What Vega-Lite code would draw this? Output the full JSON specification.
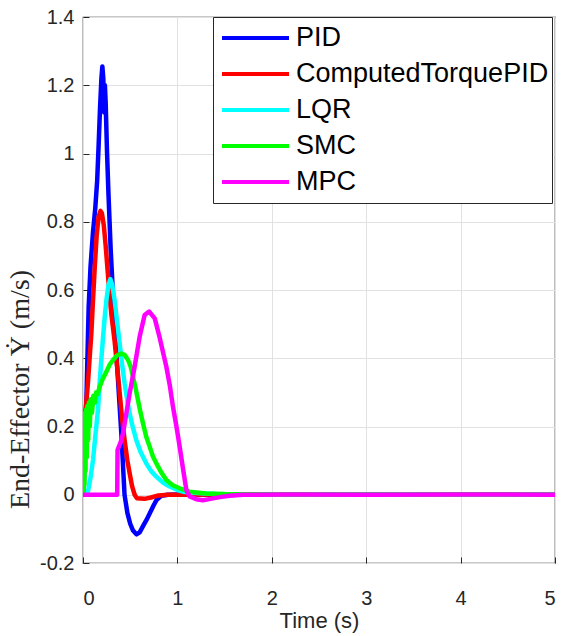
{
  "$schema": "https://vega.github.io/schema/vega-lite/v6.json",
  "width": 472,
  "height": 546,
  "autosize": {"type": "none"},
  "padding": {"left": 83, "top": 17, "right": 13, "bottom": 73},
  "background": "#ffffff",
  "config": {
    "view": {"stroke": "#262626", "strokeWidth": 1.2},
    "font": "Liberation Sans"
  },
  "data": {
    "values": [
      {"s": "PID", "t": 0, "v": 0},
      {"s": "PID", "t": 0.01, "v": 0.05},
      {"s": "PID", "t": 0.03, "v": 0.2},
      {"s": "PID", "t": 0.045, "v": 0.38},
      {"s": "PID", "t": 0.06, "v": 0.55},
      {"s": "PID", "t": 0.08, "v": 0.67},
      {"s": "PID", "t": 0.106, "v": 0.77},
      {"s": "PID", "t": 0.13, "v": 0.84},
      {"s": "PID", "t": 0.15, "v": 0.92},
      {"s": "PID", "t": 0.165, "v": 1.02},
      {"s": "PID", "t": 0.18, "v": 1.13},
      {"s": "PID", "t": 0.195, "v": 1.22},
      {"s": "PID", "t": 0.205, "v": 1.255},
      {"s": "PID", "t": 0.215, "v": 1.22},
      {"s": "PID", "t": 0.225, "v": 1.12},
      {"s": "PID", "t": 0.232, "v": 1.2},
      {"s": "PID", "t": 0.24, "v": 1.15},
      {"s": "PID", "t": 0.255, "v": 1.0},
      {"s": "PID", "t": 0.27, "v": 0.88},
      {"s": "PID", "t": 0.293, "v": 0.72},
      {"s": "PID", "t": 0.33, "v": 0.52},
      {"s": "PID", "t": 0.37, "v": 0.34},
      {"s": "PID", "t": 0.406, "v": 0.18},
      {"s": "PID", "t": 0.44, "v": 0.0},
      {"s": "PID", "t": 0.47, "v": -0.053},
      {"s": "PID", "t": 0.5, "v": -0.085},
      {"s": "PID", "t": 0.53, "v": -0.105},
      {"s": "PID", "t": 0.566, "v": -0.116},
      {"s": "PID", "t": 0.6, "v": -0.11},
      {"s": "PID", "t": 0.64, "v": -0.09},
      {"s": "PID", "t": 0.68, "v": -0.07},
      {"s": "PID", "t": 0.71, "v": -0.053},
      {"s": "PID", "t": 0.75, "v": -0.03},
      {"s": "PID", "t": 0.78, "v": -0.015},
      {"s": "PID", "t": 0.83, "v": -0.003},
      {"s": "PID", "t": 0.9, "v": 0},
      {"s": "PID", "t": 1.0, "v": 0.001},
      {"s": "PID", "t": 1.5, "v": 0},
      {"s": "PID", "t": 2, "v": 0.001},
      {"s": "PID", "t": 3, "v": 0},
      {"s": "PID", "t": 4, "v": 0.001},
      {"s": "PID", "t": 5, "v": 0},

      {"s": "ComputedTorquePID", "t": 0, "v": 0},
      {"s": "ComputedTorquePID", "t": 0.004, "v": 0.24},
      {"s": "ComputedTorquePID", "t": 0.02, "v": 0.235},
      {"s": "ComputedTorquePID", "t": 0.035, "v": 0.27},
      {"s": "ComputedTorquePID", "t": 0.053, "v": 0.33},
      {"s": "ComputedTorquePID", "t": 0.07, "v": 0.4},
      {"s": "ComputedTorquePID", "t": 0.088, "v": 0.47},
      {"s": "ComputedTorquePID", "t": 0.106, "v": 0.57},
      {"s": "ComputedTorquePID", "t": 0.125, "v": 0.67},
      {"s": "ComputedTorquePID", "t": 0.145, "v": 0.76},
      {"s": "ComputedTorquePID", "t": 0.165, "v": 0.815},
      {"s": "ComputedTorquePID", "t": 0.185, "v": 0.832},
      {"s": "ComputedTorquePID", "t": 0.2, "v": 0.825},
      {"s": "ComputedTorquePID", "t": 0.22, "v": 0.79},
      {"s": "ComputedTorquePID", "t": 0.24, "v": 0.73},
      {"s": "ComputedTorquePID", "t": 0.26, "v": 0.66},
      {"s": "ComputedTorquePID", "t": 0.283, "v": 0.58},
      {"s": "ComputedTorquePID", "t": 0.3, "v": 0.53},
      {"s": "ComputedTorquePID", "t": 0.335, "v": 0.45},
      {"s": "ComputedTorquePID", "t": 0.36, "v": 0.38},
      {"s": "ComputedTorquePID", "t": 0.388, "v": 0.3},
      {"s": "ComputedTorquePID", "t": 0.415, "v": 0.22},
      {"s": "ComputedTorquePID", "t": 0.441, "v": 0.16},
      {"s": "ComputedTorquePID", "t": 0.47, "v": 0.1},
      {"s": "ComputedTorquePID", "t": 0.494, "v": 0.063},
      {"s": "ComputedTorquePID", "t": 0.52, "v": 0.025},
      {"s": "ComputedTorquePID", "t": 0.547, "v": 0.0},
      {"s": "ComputedTorquePID", "t": 0.57, "v": -0.01},
      {"s": "ComputedTorquePID", "t": 0.65, "v": -0.012},
      {"s": "ComputedTorquePID", "t": 0.72, "v": -0.008},
      {"s": "ComputedTorquePID", "t": 0.8, "v": -0.002},
      {"s": "ComputedTorquePID", "t": 0.9, "v": 0},
      {"s": "ComputedTorquePID", "t": 1.5, "v": 0.001},
      {"s": "ComputedTorquePID", "t": 2.5, "v": 0},
      {"s": "ComputedTorquePID", "t": 3.5, "v": 0.001},
      {"s": "ComputedTorquePID", "t": 5, "v": 0},

      {"s": "LQR", "t": 0, "v": 0},
      {"s": "LQR", "t": 0.03, "v": 0.003},
      {"s": "LQR", "t": 0.053, "v": 0.01},
      {"s": "LQR", "t": 0.08, "v": 0.05},
      {"s": "LQR", "t": 0.106, "v": 0.102},
      {"s": "LQR", "t": 0.13, "v": 0.17},
      {"s": "LQR", "t": 0.159, "v": 0.25},
      {"s": "LQR", "t": 0.177, "v": 0.33},
      {"s": "LQR", "t": 0.194, "v": 0.395},
      {"s": "LQR", "t": 0.212, "v": 0.46},
      {"s": "LQR", "t": 0.23, "v": 0.52},
      {"s": "LQR", "t": 0.25, "v": 0.575},
      {"s": "LQR", "t": 0.27, "v": 0.615},
      {"s": "LQR", "t": 0.29, "v": 0.632},
      {"s": "LQR", "t": 0.31, "v": 0.615},
      {"s": "LQR", "t": 0.335, "v": 0.57},
      {"s": "LQR", "t": 0.36, "v": 0.51},
      {"s": "LQR", "t": 0.388, "v": 0.444},
      {"s": "LQR", "t": 0.415, "v": 0.38},
      {"s": "LQR", "t": 0.441, "v": 0.326},
      {"s": "LQR", "t": 0.47, "v": 0.275},
      {"s": "LQR", "t": 0.494, "v": 0.238},
      {"s": "LQR", "t": 0.53, "v": 0.195},
      {"s": "LQR", "t": 0.565, "v": 0.16},
      {"s": "LQR", "t": 0.61, "v": 0.125},
      {"s": "LQR", "t": 0.67, "v": 0.092},
      {"s": "LQR", "t": 0.72, "v": 0.07},
      {"s": "LQR", "t": 0.777, "v": 0.053},
      {"s": "LQR", "t": 0.85, "v": 0.035},
      {"s": "LQR", "t": 0.918, "v": 0.024},
      {"s": "LQR", "t": 1.0, "v": 0.014},
      {"s": "LQR", "t": 1.06, "v": 0.009},
      {"s": "LQR", "t": 1.2, "v": 0.005},
      {"s": "LQR", "t": 1.4, "v": 0.002},
      {"s": "LQR", "t": 1.7, "v": 0.001},
      {"s": "LQR", "t": 2.5, "v": 0},
      {"s": "LQR", "t": 3.5, "v": 0.001},
      {"s": "LQR", "t": 5, "v": 0},

      {"s": "SMC", "t": 0, "v": 0},
      {"s": "SMC", "t": 0.003, "v": 0.22},
      {"s": "SMC", "t": 0.007, "v": 0.01},
      {"s": "SMC", "t": 0.011, "v": 0.23},
      {"s": "SMC", "t": 0.016, "v": 0.03},
      {"s": "SMC", "t": 0.021, "v": 0.24},
      {"s": "SMC", "t": 0.027, "v": 0.07},
      {"s": "SMC", "t": 0.033, "v": 0.25},
      {"s": "SMC", "t": 0.04, "v": 0.11},
      {"s": "SMC", "t": 0.047, "v": 0.26},
      {"s": "SMC", "t": 0.055, "v": 0.16},
      {"s": "SMC", "t": 0.063, "v": 0.27},
      {"s": "SMC", "t": 0.072, "v": 0.2},
      {"s": "SMC", "t": 0.082, "v": 0.28},
      {"s": "SMC", "t": 0.095, "v": 0.24},
      {"s": "SMC", "t": 0.11, "v": 0.29},
      {"s": "SMC", "t": 0.125, "v": 0.27},
      {"s": "SMC", "t": 0.14, "v": 0.3},
      {"s": "SMC", "t": 0.155, "v": 0.295},
      {"s": "SMC", "t": 0.177, "v": 0.317},
      {"s": "SMC", "t": 0.21, "v": 0.34},
      {"s": "SMC", "t": 0.247, "v": 0.36},
      {"s": "SMC", "t": 0.28, "v": 0.38},
      {"s": "SMC", "t": 0.318, "v": 0.395},
      {"s": "SMC", "t": 0.36, "v": 0.408},
      {"s": "SMC", "t": 0.406, "v": 0.414},
      {"s": "SMC", "t": 0.44, "v": 0.41},
      {"s": "SMC", "t": 0.477, "v": 0.395},
      {"s": "SMC", "t": 0.505, "v": 0.375},
      {"s": "SMC", "t": 0.53, "v": 0.346},
      {"s": "SMC", "t": 0.555, "v": 0.315},
      {"s": "SMC", "t": 0.583, "v": 0.277},
      {"s": "SMC", "t": 0.61, "v": 0.24},
      {"s": "SMC", "t": 0.636, "v": 0.209},
      {"s": "SMC", "t": 0.67, "v": 0.17},
      {"s": "SMC", "t": 0.706, "v": 0.141},
      {"s": "SMC", "t": 0.74, "v": 0.113},
      {"s": "SMC", "t": 0.777, "v": 0.092},
      {"s": "SMC", "t": 0.83, "v": 0.065},
      {"s": "SMC", "t": 0.883, "v": 0.043},
      {"s": "SMC", "t": 0.95, "v": 0.028},
      {"s": "SMC", "t": 1.024, "v": 0.019},
      {"s": "SMC", "t": 1.13, "v": 0.009},
      {"s": "SMC", "t": 1.3, "v": 0.004},
      {"s": "SMC", "t": 1.5, "v": 0.002},
      {"s": "SMC", "t": 2, "v": 0.001},
      {"s": "SMC", "t": 3, "v": 0},
      {"s": "SMC", "t": 4, "v": 0.001},
      {"s": "SMC", "t": 5, "v": 0},

      {"s": "MPC", "t": 0, "v": 0},
      {"s": "MPC", "t": 0.362, "v": 0},
      {"s": "MPC", "t": 0.366, "v": 0.131},
      {"s": "MPC", "t": 0.4, "v": 0.155},
      {"s": "MPC", "t": 0.424, "v": 0.18},
      {"s": "MPC", "t": 0.46, "v": 0.24},
      {"s": "MPC", "t": 0.494, "v": 0.297},
      {"s": "MPC", "t": 0.547, "v": 0.375},
      {"s": "MPC", "t": 0.6, "v": 0.463},
      {"s": "MPC", "t": 0.653, "v": 0.527},
      {"s": "MPC", "t": 0.7, "v": 0.537},
      {"s": "MPC", "t": 0.76, "v": 0.517},
      {"s": "MPC", "t": 0.81, "v": 0.463},
      {"s": "MPC", "t": 0.85, "v": 0.415},
      {"s": "MPC", "t": 0.883, "v": 0.375},
      {"s": "MPC", "t": 0.92, "v": 0.32},
      {"s": "MPC", "t": 0.953, "v": 0.258},
      {"s": "MPC", "t": 0.99, "v": 0.2},
      {"s": "MPC", "t": 1.024, "v": 0.141},
      {"s": "MPC", "t": 1.06, "v": 0.075},
      {"s": "MPC", "t": 1.095, "v": 0.014},
      {"s": "MPC", "t": 1.13, "v": -0.005},
      {"s": "MPC", "t": 1.2, "v": -0.013},
      {"s": "MPC", "t": 1.27, "v": -0.016},
      {"s": "MPC", "t": 1.35, "v": -0.012},
      {"s": "MPC", "t": 1.45, "v": -0.007},
      {"s": "MPC", "t": 1.55, "v": -0.003},
      {"s": "MPC", "t": 1.7, "v": 0},
      {"s": "MPC", "t": 2.2, "v": 0.001},
      {"s": "MPC", "t": 3, "v": 0},
      {"s": "MPC", "t": 4, "v": 0.001},
      {"s": "MPC", "t": 5, "v": 0}
    ]
  },
  "mark": {"type": "line", "strokeWidth": 4.5, "strokeJoin": "round", "strokeCap": "round", "clip": true},
  "encoding": {
    "x": {
      "field": "t",
      "type": "quantitative",
      "scale": {"domain": [0, 5], "nice": false, "zero": false},
      "axis": {
        "title": "Time (s)",
        "values": [0, 1, 2, 3, 4, 5],
        "grid": true,
        "gridColor": "#e1e1e1",
        "gridWidth": 1,
        "domain": false,
        "ticks": true,
        "tickSize": -6,
        "tickColor": "#262626",
        "tickWidth": 1,
        "labelFontSize": 20,
        "labelColor": "#262626",
        "labelPadding": 31,
        "titleFontSize": 22,
        "titleFontWeight": "normal",
        "titleColor": "#262626",
        "titlePadding": 2
      }
    },
    "y": {
      "field": "v",
      "type": "quantitative",
      "scale": {"domain": [-0.2, 1.4], "nice": false, "zero": false},
      "axis": {
        "title": "End-Effector Ẏ (m/s)",
        "values": [-0.2, 0, 0.2, 0.4, 0.6, 0.8, 1, 1.2, 1.4],
        "labelExpr": "toString(round(datum.value*10)/10)",
        "grid": true,
        "gridColor": "#e1e1e1",
        "gridWidth": 1,
        "domain": false,
        "ticks": true,
        "tickSize": -6,
        "tickColor": "#262626",
        "tickWidth": 1,
        "labelFontSize": 20,
        "labelColor": "#262626",
        "labelPadding": 15,
        "titleFont": "Liberation Serif",
        "titleFontSize": 28,
        "titleFontWeight": "normal",
        "titleColor": "#262626",
        "titleAngle": -90,
        "titleX": -63,
        "titleY": 372,
        "titleAlign": "center",
        "titleBaseline": "middle"
      }
    },
    "color": {
      "field": "s",
      "type": "nominal",
      "sort": ["PID", "ComputedTorquePID", "LQR", "SMC", "MPC"],
      "scale": {
        "domain": ["PID", "ComputedTorquePID", "LQR", "SMC", "MPC"],
        "range": ["#0000ff", "#ff0000", "#00ffff", "#00ff00", "#ff00ff"]
      },
      "legend": {
        "orient": "none",
        "legendX": 130,
        "legendY": 0,
        "title": null,
        "symbolType": "stroke",
        "symbolSize": 4489,
        "symbolStrokeWidth": 4,
        "clipHeight": 36,
        "rowPadding": 0,
        "labelFontSize": 27,
        "labelFont": "Liberation Sans",
        "labelColor": "#000000",
        "labelOffset": 5,
        "labelLimit": 400,
        "symbolOffset": 4,
        "padding": 3,
        "strokeColor": "#262626",
        "fillColor": "#ffffff"
      }
    }
  }
}
